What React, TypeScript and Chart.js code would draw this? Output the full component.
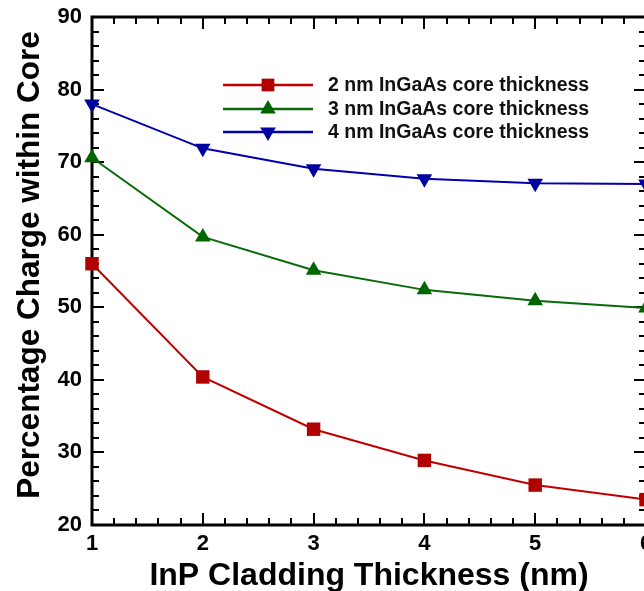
import React, { useEffect, useRef } from 'react';
import { Chart, registerables } from 'chart.js';

Chart.register(...registerables);

// Cladding thickness (nm) on the x axis
const claddingThickness = [1, 2, 3, 4, 5, 6];

// Percentage of charge confined within the InGaAs core
const core2nm = [56.0, 40.4, 33.2, 28.9, 25.5, 23.5];
const core3nm = [70.6, 59.7, 55.1, 52.4, 50.9, 49.9];
const core4nm = [78.0, 71.9, 69.1, 67.7, 67.1, 67.0];

const seriesLabels = [
  '2 nm InGaAs core thickness',
  '3 nm InGaAs core thickness',
  '4 nm InGaAs core thickness',
];

const xTitle = 'InP Cladding Thickness (nm)';
const yTitle = 'Percentage Charge within Core';

const xRange = [1, 6];
const yRange = [20, 90];
const xMinorStep = 0.2;
const yMinorStep = 2;

const FONT = '"Liberation Sans", Arial, Helvetica, sans-serif';
const COLORS = ['#b00000', '#006400', '#0000a0'];
const LINE_COLORS = ['#c00000', '#0a6a0a', '#0000b0'];
const STYLES = ['rect', 'triangle', 'triangle'];
const ROTATIONS = [0, 0, 180];

function drawMarker(ctx: CanvasRenderingContext2D, style: string, rotation: number, x: number, y: number, r: number) {
  ctx.beginPath();
  if (style === 'rect') {
    const s = Math.SQRT1_2 * r;
    ctx.rect(x - s, y - s, 2 * s, 2 * s);
  } else {
    let rad = (rotation * Math.PI) / 180;
    ctx.moveTo(x + Math.sin(rad) * r, y - Math.cos(rad) * r);
    rad += (2 * Math.PI) / 3;
    ctx.lineTo(x + Math.sin(rad) * r, y - Math.cos(rad) * r);
    rad += (2 * Math.PI) / 3;
    ctx.lineTo(x + Math.sin(rad) * r, y - Math.cos(rad) * r);
    ctx.closePath();
  }
  ctx.fill();
}

// Box frame with inward major/minor ticks on all four sides
const frameTicks = {
  id: 'frameTicks',
  beforeDatasetsDraw(chart: any) {
    const { ctx, chartArea: a, scales } = chart;
    const xs = scales.x;
    const ys = scales.y;
    ctx.save();
    ctx.strokeStyle = '#000';
    ctx.lineCap = 'butt';
    const major = 12;
    const minor = 7;
    ctx.lineWidth = 2;
    ctx.beginPath();
    const nx = Math.round((xRange[1] - xRange[0]) / xMinorStep);
    for (let i = 0; i <= nx; i++) {
      const v = xRange[0] + i * xMinorStep;
      const len = i % 5 === 0 ? major : minor;
      const px = Math.round(xs.getPixelForValue(v));
      ctx.moveTo(px, a.bottom);
      ctx.lineTo(px, a.bottom - len);
      ctx.moveTo(px, a.top);
      ctx.lineTo(px, a.top + len);
    }
    const ny = Math.round((yRange[1] - yRange[0]) / yMinorStep);
    for (let i = 0; i <= ny; i++) {
      const v = yRange[0] + i * yMinorStep;
      const len = i % 5 === 0 ? major : minor;
      const py = Math.round(ys.getPixelForValue(v));
      ctx.moveTo(a.left, py);
      ctx.lineTo(a.left + len, py);
      ctx.moveTo(a.right, py);
      ctx.lineTo(a.right - len, py);
    }
    ctx.stroke();
    ctx.lineWidth = 3;
    ctx.strokeRect(a.left, a.top, a.right - a.left, a.bottom - a.top);
    ctx.restore();
  },
};

// Rotated y-axis title, set slightly above the plot's middle
const yAxisTitle = {
  id: 'yAxisTitle',
  afterDraw(chart: any) {
    const { ctx, chartArea: a } = chart;
    ctx.save();
    ctx.translate(30, (a.top + a.bottom) / 2 - 6);
    ctx.rotate(-Math.PI / 2);
    ctx.fillStyle = '#000';
    ctx.font = `bold 31.5px ${FONT}`;
    ctx.textAlign = 'center';
    ctx.textBaseline = 'middle';
    ctx.fillText(yTitle, 0, 0);
    ctx.restore();
  },
};

// Legend drawn inside the plot area
const insideLegend = {
  id: 'insideLegend',
  afterDatasetsDraw(chart: any) {
    const { ctx } = chart;
    const x0 = 223;
    const x1 = 313;
    const xm = 268;
    const xt = 328;
    const rows = [85, 109, 132];
    ctx.save();
    chart.data.datasets.forEach((ds: any, i: number) => {
      const y = rows[i];
      ctx.strokeStyle = LINE_COLORS[i];
      ctx.lineWidth = 2.5;
      ctx.beginPath();
      ctx.moveTo(x0, y);
      ctx.lineTo(x1, y);
      ctx.stroke();
      ctx.fillStyle = COLORS[i];
      drawMarker(ctx, STYLES[i], ROTATIONS[i], xm, y, 9);
      ctx.fillStyle = '#111';
      ctx.font = `bold 19.5px ${FONT}`;
      ctx.textBaseline = 'middle';
      ctx.textAlign = 'left';
      ctx.fillText(ds.label, xt, y + 1);
    });
    ctx.restore();
  },
};

export default function App() {
  const canvasRef = useRef<HTMLCanvasElement | null>(null);

  useEffect(() => {
    if (!canvasRef.current) return;
    const series = [core2nm, core3nm, core4nm];
    const chart = new Chart(canvasRef.current, {
      type: 'line',
      data: {
        datasets: series.map((vals, i) => ({
          label: seriesLabels[i],
          data: claddingThickness.map((x, j) => ({ x, y: vals[j] })),
          borderColor: LINE_COLORS[i],
          backgroundColor: COLORS[i],
          pointBackgroundColor: COLORS[i],
          pointBorderColor: COLORS[i],
          pointBorderWidth: 0,
          borderWidth: 2,
          pointStyle: STYLES[i] as any,
          rotation: ROTATIONS[i],
          pointRadius: STYLES[i] === 'rect' ? 9.5 : 9,
          tension: 0,
          clip: false as any,
        })),
      },
      options: {
        responsive: false,
        animation: false,
        events: [],
        layout: { padding: { top: 17, right: 14, left: 0, bottom: 0 } },
        plugins: {
          legend: { display: false },
          tooltip: { enabled: false },
        },
        scales: {
          x: {
            type: 'linear',
            min: xRange[0],
            max: xRange[1],
            grid: { display: false, drawTicks: false },
            border: { display: false },
            afterFit: (s: any) => {
              s.height = 66;
              s.paddingLeft = 0;
              s.paddingRight = 0;
            },
            ticks: {
              stepSize: 1,
              color: '#000',
              padding: 6,
              font: { family: FONT, size: 22, weight: 'bold' },
            },
            title: {
              display: true,
              text: xTitle,
              color: '#000',
              padding: { top: 0, bottom: -1 },
              font: { family: FONT, size: 32, weight: 'bold', lineHeight: 1 },
            },
          },
          y: {
            type: 'linear',
            min: yRange[0],
            max: yRange[1],
            grid: { display: false, drawTicks: false },
            border: { display: false },
            afterFit: (s: any) => {
              s.width = 92;
              s.paddingTop = 0;
              s.paddingBottom = 0;
            },
            ticks: {
              stepSize: 10,
              color: '#000',
              padding: 10,
              font: { family: FONT, size: 22, weight: 'bold' },
            },
            title: { display: false },
          },
        },
      },
      plugins: [frameTicks, insideLegend, yAxisTitle],
    });
    return () => chart.destroy();
  }, []);

  return (
    <div
      style={{
        position: 'fixed',
        left: 0,
        top: 0,
        width: 644,
        height: 591,
        overflow: 'hidden',
        background: '#fff',
      }}
    >
      <canvas ref={canvasRef} width={660} height={591} style={{ display: 'block' }} />
    </div>
  );
}
